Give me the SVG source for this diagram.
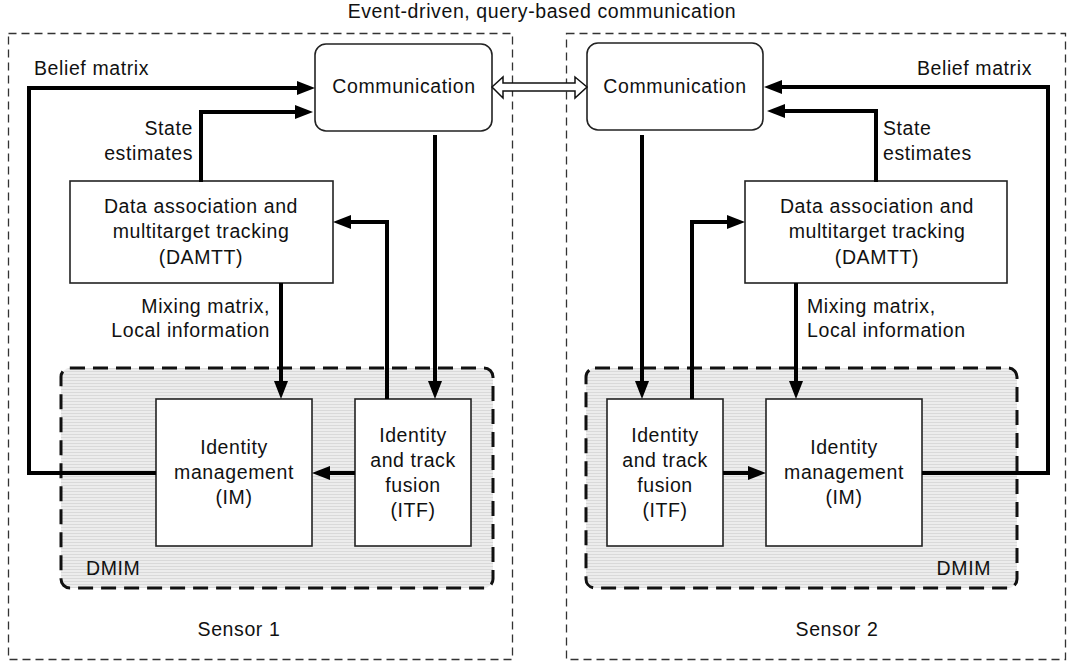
<svg xmlns="http://www.w3.org/2000/svg" width="1070" height="667" viewBox="0 0 1070 667">
<style>
text{font-family:"Liberation Sans",Arial,sans-serif;font-size:19.5px;letter-spacing:0.6px;fill:#111}
.c{text-anchor:middle}
.r{text-anchor:end}
.outer{fill:none;stroke:#333;stroke-width:1.3;stroke-dasharray:8 5}
.dmim{fill:url(#hatch);stroke:#111;stroke-width:3;stroke-dasharray:15 8}
.box{fill:#fff;stroke:#222;stroke-width:1.6}
.conn{fill:none;stroke:#000;stroke-width:4;marker-end:url(#ah)}
</style>
<defs>
<pattern id="hatch" width="4" height="3" patternUnits="userSpaceOnUse">
<rect width="4" height="3" fill="#ececec"/>
<rect y="2" width="4" height="1" fill="#d9d9d9"/>
</pattern>
<marker id="ah" markerUnits="userSpaceOnUse" markerWidth="18" markerHeight="14" refX="2" refY="7" orient="auto">
<path d="M0,0 L18,7 L0,14 z" fill="#000"/>
</marker>
</defs>
<rect width="1070" height="667" fill="#fff"/>
<text class="c" x="542" y="18">Event-driven, query-based communication</text>

<g id="sensor1">
<rect class="outer" x="8.5" y="33.5" width="504" height="626"/>
<text class="c" x="239" y="636">Sensor 1</text>
</g>
<g id="sensor2">
<rect class="outer" x="566.5" y="33.5" width="499" height="626"/>
<text class="c" x="837" y="636">Sensor 2</text>
</g>

<g id="dmim1">
<rect class="dmim" x="61" y="368" width="432" height="220" rx="9"/>
<text x="86" y="575">DMIM</text>
</g>
<g id="dmim2">
<rect class="dmim" x="586" y="368" width="431" height="220" rx="9"/>
<text class="r" x="991" y="575">DMIM</text>
</g>

<g id="comm1">
<rect class="box" x="315" y="44" width="177" height="87" rx="11"/>
<text class="c" x="404" y="93">Communication</text>
</g>
<g id="comm2">
<rect class="box" x="587" y="43" width="176" height="87" rx="11"/>
<text class="c" x="675" y="93">Communication</text>
</g>

<g id="damtt1">
<rect class="box" x="70" y="181" width="263" height="102"/>
<text class="c" x="201" y="213">Data association and</text>
<text class="c" x="201" y="238">multitarget tracking</text>
<text class="c" x="201" y="264">(DAMTT)</text>
</g>
<g id="damtt2">
<rect class="box" x="745" y="181" width="262" height="102"/>
<text class="c" x="877" y="213">Data association and</text>
<text class="c" x="877" y="238">multitarget tracking</text>
<text class="c" x="877" y="264">(DAMTT)</text>
</g>

<g id="im1">
<rect class="box" x="156" y="399" width="156" height="147"/>
<text class="c" x="234" y="454">Identity</text>
<text class="c" x="234" y="479">management</text>
<text class="c" x="234" y="504">(IM)</text>
</g>
<g id="itf1">
<rect class="box" x="355" y="399" width="116" height="147"/>
<text class="c" x="413" y="442">Identity</text>
<text class="c" x="413" y="467">and track</text>
<text class="c" x="413" y="492">fusion</text>
<text class="c" x="413" y="517">(ITF)</text>
</g>
<g id="itf2">
<rect class="box" x="607" y="399" width="116" height="147"/>
<text class="c" x="665" y="442">Identity</text>
<text class="c" x="665" y="467">and track</text>
<text class="c" x="665" y="492">fusion</text>
<text class="c" x="665" y="517">(ITF)</text>
</g>
<g id="im2">
<rect class="box" x="766" y="399" width="156" height="147"/>
<text class="c" x="844" y="454">Identity</text>
<text class="c" x="844" y="479">management</text>
<text class="c" x="844" y="504">(IM)</text>
</g>

<g id="connectors">
<polygon points="492,87 503,77 503,83 575,83 575,77 587,87 575,98 575,91 503,91 503,98" fill="#fff" stroke="#111" stroke-width="1.5"/>
<path class="conn" d="M156,473 H29 V88 H299"/>
<path class="conn" d="M201,182 V112 H297"/>
<path class="conn" d="M435,135 V383"/>
<path class="conn" d="M281,283 V383"/>
<path class="conn" d="M387,399 V222 H349"/>
<path class="conn" d="M355,473 H328"/>
<path class="conn" d="M922,473 H1048 V87 H780"/>
<path class="conn" d="M876,182 V111 H783"/>
<path class="conn" d="M642,135 V383"/>
<path class="conn" d="M796,283 V383"/>
<path class="conn" d="M692,399 V222 H729"/>
<path class="conn" d="M723,473 H750"/>
</g>

<g id="labels">
<text x="34" y="75">Belief matrix</text>
<text class="r" x="1032" y="75">Belief matrix</text>
<text class="r" x="193" y="135">State</text>
<text class="r" x="193" y="160">estimates</text>
<text x="883" y="135">State</text>
<text x="883" y="160">estimates</text>
<text class="r" x="270" y="313">Mixing matrix,</text>
<text class="r" x="270" y="337">Local information</text>
<text x="807" y="313">Mixing matrix,</text>
<text x="807" y="337">Local information</text>
</g>
</svg>
